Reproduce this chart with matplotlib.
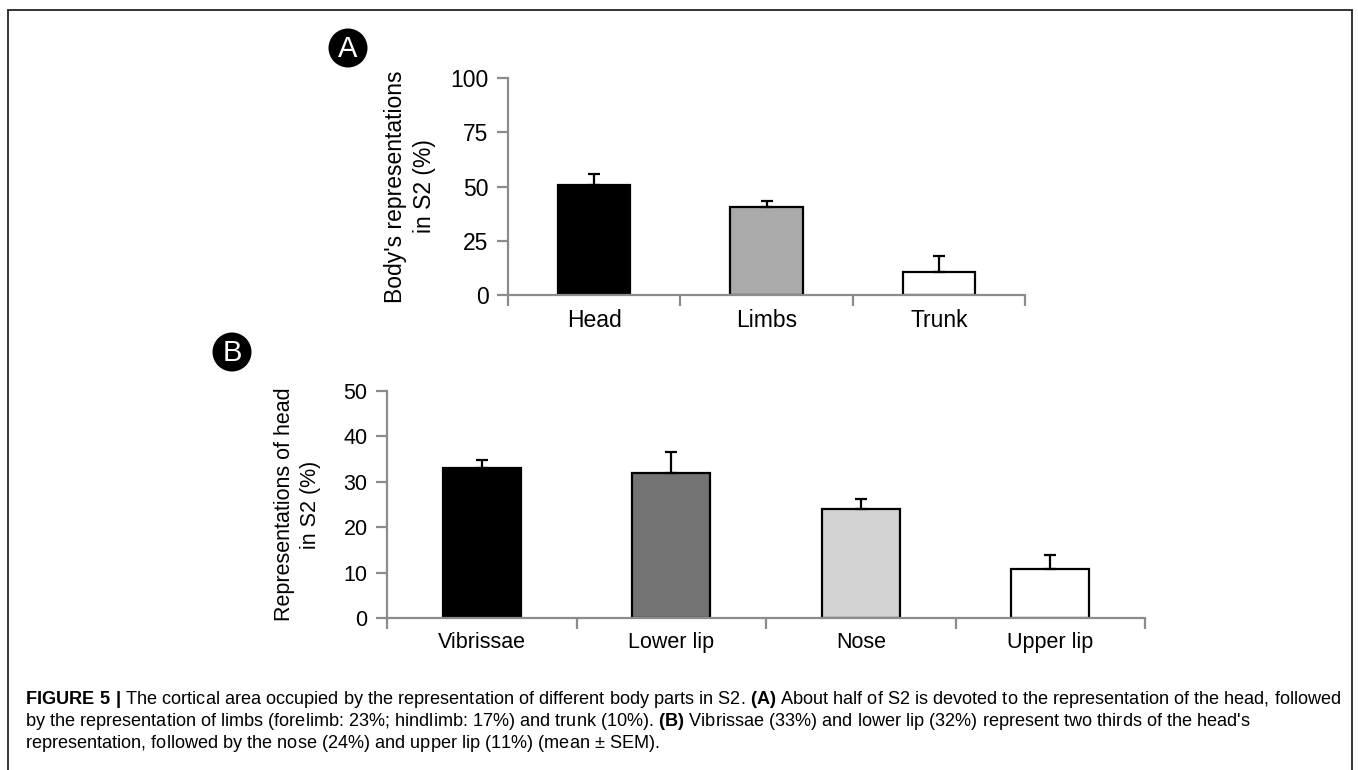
import matplotlib
matplotlib.use("Agg")
import matplotlib.pyplot as plt
from matplotlib.patches import Ellipse, Rectangle

plt.rcParams["font.family"] = ["Liberation Sans", "DejaVu Sans"]
plt.rcParams["mathtext.fontset"] = "custom"
plt.rcParams["mathtext.rm"] = "Liberation Sans"
plt.rcParams["mathtext.bf"] = "Liberation Sans:bold"

# Panel A data
body_parts = ["Head", "Limbs", "Trunk"]
body_mean = [50.7, 40.5, 10.6]
body_sem = [5.1, 2.8, 7.4]
body_colors = ["#000000", "#aaaaaa", "#ffffff"]
body_yticks = [0, 25, 50, 75, 100]

# Panel B data
head_parts = ["Vibrissae", "Lower lip", "Nose", "Upper lip"]
head_mean = [33.0, 31.9, 24.0, 10.8]
head_sem = [1.8, 4.7, 2.2, 3.1]
head_colors = ["#000000", "#737373", "#d3d3d3", "#ffffff"]
head_yticks = [0, 10, 20, 30, 40, 50]

caption = [
    (r"$\bf{FIGURE\ 5\ |}$ The cortical area occupied by the representation of different body parts in S2. "
     r"$\bf{(A)}$ About half of S2 is devoted to the representation of the head, followed"),
    (r"by the representation of limbs (forelimb: 23%; hindlimb: 17%) and trunk (10%). "
     r"$\bf{(B)}$ Vibrissae (33%) and lower lip (32%) represent two thirds of the head's"),
    r"representation, followed by the nose (24%) and upper lip (11%) (mean $\pm$ SEM).",
]

W, H = 1358, 770
fig = plt.figure(figsize=(W / 100, H / 100), dpi=100)
axis_grey = "#8c8c8c"


def style_axes(ax, ncat, yticks, fs):
    for s in ["top", "right"]:
        ax.spines[s].set_visible(False)
    for s in ["left", "bottom"]:
        ax.spines[s].set_color(axis_grey)
        ax.spines[s].set_linewidth(1.6)
    ax.set_xlim(-0.5, ncat - 0.5)
    ax.set_ylim(yticks[0], yticks[-1])
    ax.set_yticks(yticks)
    ax.set_xticks([i - 0.5 for i in range(ncat + 1)], minor=True)
    ax.tick_params(axis="x", which="major", length=0, labelsize=fs, pad=10)
    ax.tick_params(axis="x", which="minor", length=8, width=1.6, color=axis_grey, direction="out")
    ax.tick_params(axis="y", length=8, width=1.6, color=axis_grey, labelsize=fs, pad=6)


def bars(ax, names, mean, sem, colors, width):
    x = list(range(len(names)))
    ax.bar(x, mean, width=width, color=colors, edgecolor="black", linewidth=1.6, zorder=2)
    ax.errorbar(x, mean, yerr=[[0] * len(sem), sem], fmt="none", ecolor="black",
                elinewidth=1.6, capsize=4.5, capthick=1.6, zorder=3)
    ax.set_xticks(x)
    ax.set_xticklabels(names)


# Panel A
axA = fig.add_axes([508 / W, 1 - 295 / H, 517 / W, 217 / H])
bars(axA, body_parts, body_mean, body_sem, body_colors, 0.42)
style_axes(axA, len(body_parts), body_yticks, 16.5)
axA.set_ylabel("Body's representations\nin S2 (%)", fontsize=16.5, labelpad=10, linespacing=1.35)

# Panel B
axB = fig.add_axes([387 / W, 1 - 618 / H, 758 / W, 227 / H])
bars(axB, head_parts, head_mean, head_sem, head_colors, 0.41)
style_axes(axB, len(head_parts), head_yticks, 15.5)
axB.set_ylabel("Representations of head\nin S2 (%)", fontsize=15.5, labelpad=16, linespacing=1.3)

# Panel letters
for letter, cx, cy in [("A", 348, 48), ("B", 232, 352)]:
    fig.add_artist(Ellipse((cx / W, 1 - cy / H), 39 / W, 39 / H, transform=fig.transFigure,
                           facecolor="black", edgecolor="none"))
    fig.text(cx / W, 1 - (cy + 1) / H, letter, color="white", fontsize=21,
             ha="center", va="center")

# Outer frame
fig.add_artist(Rectangle((8 / W, -0.05), (1352 - 8) / W, 1.05 - 10 / H, transform=fig.transFigure,
                         fill=False, edgecolor="#333333", linewidth=1.4))

# Caption
for i, line in enumerate(caption):
    fig.text(25 / W, 1 - (700 + 22 * i) / H, line, fontsize=13.1, ha="left", va="center")

fig.savefig("out.png", dpi=100)
